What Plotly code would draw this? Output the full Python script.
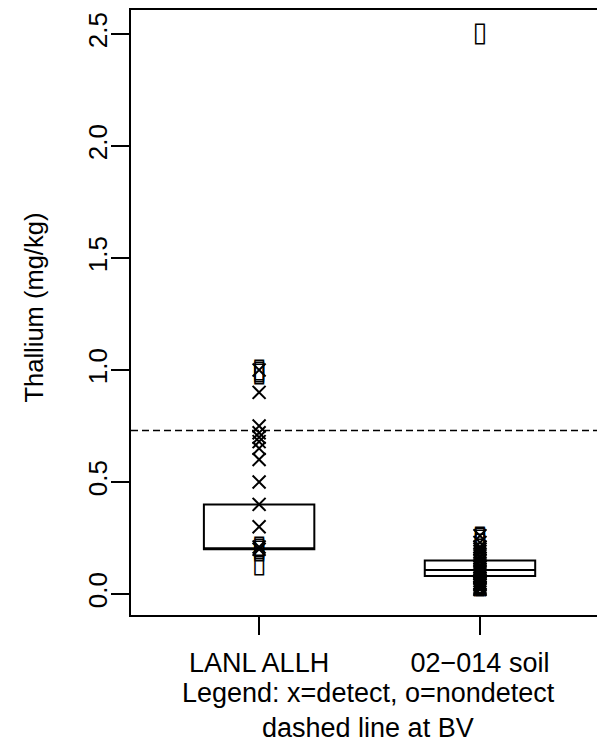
import plotly.graph_objects as go

# ---- data ----
categories = ["LANL ALLH", "02\u2212014 soil"]
cat_pos = [1, 2]

# box statistics (q1, median, q3) per group
box_q1 = [0.20, 0.08]
box_median = [0.20, 0.107]
box_q3 = [0.40, 0.15]

# LANL ALLH
lanl_detect = [1.0, 0.9, 0.75, 0.72, 0.7, 0.68, 0.65, 0.6, 0.5, 0.4, 0.3, 0.21, 0.2]
lanl_nondetect = [1.0, 0.99, 0.98, 0.21, 0.2, 0.19, 0.13]

# 02-014 soil
site_detect = [0.26, 0.23, 0.21, 0.2, 0.19, 0.17, 0.16, 0.15, 0.13, 0.12, 0.11,
               0.1, 0.09, 0.08, 0.07, 0.06, 0.05, 0.045, 0.04, 0.03, 0.025, 0.02]
site_nondetect = [2.5, 0.255, 0.25, 0.24, 0.22, 0.2, 0.18, 0.17, 0.16, 0.15, 0.14,
                  0.13, 0.12, 0.11, 0.1, 0.09, 0.08, 0.07, 0.06, 0.05, 0.045, 0.04, 0.035]

bv = 0.73

y_ticks = [0.0, 0.5, 1.0, 1.5, 2.0, 2.5]
y_title = "Thallium (mg/kg)"
x_title_lines = ["Legend: x=detect, o=nondetect", "dashed line at BV"]

FONT = "Liberation Sans, Arial, sans-serif"
FSH = 27   # horizontal texts
FSV = 26   # vertical tick labels
FST = 25.5 # vertical axis title

fig = go.Figure()

for i, p in enumerate(cat_pos):
    fig.add_trace(go.Box(
        x=[p], q1=[box_q1[i]], median=[box_median[i]], q3=[box_q3[i]],
        lowerfence=[box_q1[i]], upperfence=[box_q3[i]],
        width=0.5, line=dict(color="black", width=2),
        fillcolor="rgba(255,255,255,0)", boxpoints=False,
        whiskerwidth=0, showlegend=False, hoverinfo="skip"))

fig.add_hline(y=bv, line=dict(color="black", width=1.5, dash="7px,4px"))

det_x = [cat_pos[0]] * len(lanl_detect) + [cat_pos[1]] * len(site_detect)
det_y = lanl_detect + site_detect
fig.add_trace(go.Scatter(
    x=det_x, y=det_y, mode="markers",
    marker=dict(symbol="x-thin-open", size=13, color="black",
                line=dict(color="black", width=2)),
    showlegend=False, hoverinfo="skip"))

nd_x = [cat_pos[0]] * len(lanl_nondetect) + [cat_pos[1]] * len(site_nondetect)
nd_y = lanl_nondetect + site_nondetect
fig.add_trace(go.Scatter(
    x=nd_x, y=nd_y, mode="text", text=["\u25AF"] * len(nd_y),
    textposition="middle center",
    textfont=dict(family="DejaVu Sans", size=27, color="black", weight="bold"),
    showlegend=False, hoverinfo="skip"))

# page body has an 8px default margin: size the figure so it fills the window
fig.update_layout(
    width=597, height=734,
    margin=dict(l=123, r=0, t=2, b=127),
    paper_bgcolor="white", plot_bgcolor="white",
    font=dict(family=FONT, size=FSH, color="black"),
    showlegend=False,
)
fig.update_xaxes(
    range=[0.42, 2.566], tickvals=cat_pos, ticktext=categories,
    showline=True, mirror=True, linecolor="black", linewidth=2,
    ticks="outside", ticklen=18, tickwidth=2, tickcolor="black",
    showgrid=False, zeroline=False, ticklabelstandoff=5,
    tickfont=dict(family=FONT, size=FSH, color="black"),
)
fig.update_yaxes(
    range=[-0.0938, 2.607], tickvals=y_ticks,
    ticktext=[f"{v:.1f}" for v in y_ticks], tickangle=-90,
    showline=True, linecolor="black", linewidth=2,
    ticks="outside", ticklen=18, tickwidth=2, tickcolor="black",
    showgrid=False, zeroline=False, ticklabelstandoff=-6,
    tickfont=dict(family=FONT, size=FSV, color="black"),
)

fig.add_annotation(
    text=y_title, textangle=-90, xref="paper", yref="paper",
    x=0, y=0.5, xanchor="center", yanchor="middle", xshift=-98, yshift=5,
    showarrow=False, font=dict(family=FONT, size=FST, color="black"))
for k, line in enumerate(x_title_lines):
    fig.add_annotation(
        text=line, xref="paper", yref="paper", x=0.5, y=0,
        xanchor="center", yanchor="middle", yshift=-(78 + 35 * k),
        showarrow=False, font=dict(family=FONT, size=FSH, color="black"))

fig.write_html("out.html")
